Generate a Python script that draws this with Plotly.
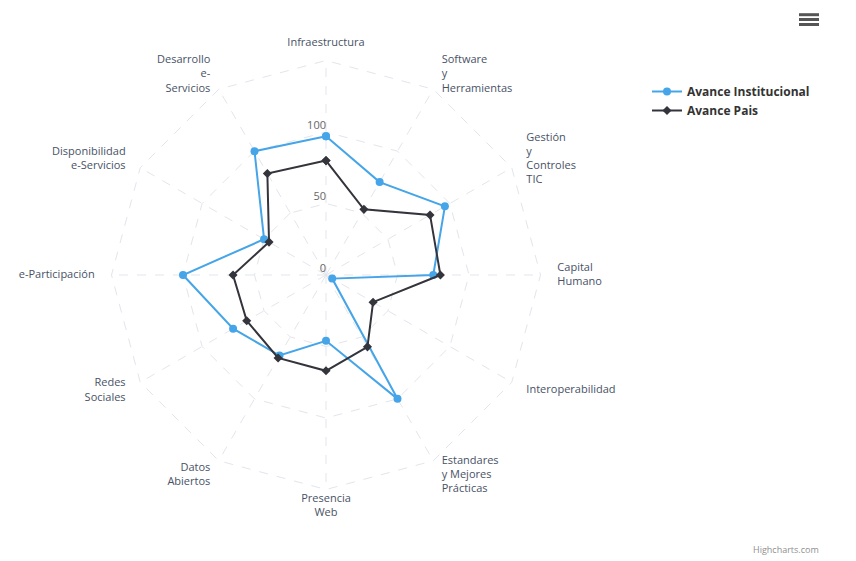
import plotly.graph_objects as go

categories = [
    "Infraestructura",
    "Software<br>y<br>Herramientas",
    "Gestión<br>y<br>Controles<br>TIC",
    "Capital<br>Humano",
    "Interoperabilidad",
    "Estandares<br>y Mejores<br>Prácticas",
    "Presencia<br>Web",
    "Datos<br>Abiertos",
    "Redes<br>Sociales",
    "e-Participación",
    "Disponibilidad<br>e-Servicios",
    "Desarrollo<br>e-<br>Servicios",
]
avance_institucional = [97, 75, 96, 75, 5, 100, 46, 65, 75, 100, 50, 100]
avance_pais = [80, 53, 84, 80, 38, 58, 67, 67, 64, 65, 46, 82]
radial_ticks = [0, 50, 100, 150]
radial_labels = ["0", "50", "100"]

W, H = 856, 561
OFF = 8  # page body margin
BLUE = "#45a5e8"
DARK = "#34343c"
GRID = "#e2e5eb"
LABEL = "#485266"
FONT = "Open Sans, Verdana, sans-serif"
RMAX = 150          # outer web
RLIM = 164          # room for category labels
LABEL_R = 161.8     # category labels sit just outside the web
LABEL_EPS = 0.3     # keeps the "0" label from sitting exactly on the pole
PX_PER_UNIT = 1.43
label_positions = [
    "middle center", "middle right", "middle right", "middle right",
    "middle right", "middle right", "middle center", "middle left",
    "middle left", "middle left", "middle left", "middle left",
]


def px(x):
    return (x - OFF) / W


def py(y):
    return 1 - (y - OFF) / H


fig = go.Figure()
# spokes of the web
spoke_r, spoke_t = [], []
for c in categories:
    spoke_r += [0, RMAX, None]
    spoke_t += [c, c, None]
fig.add_trace(go.Scatterpolar(
    r=spoke_r, theta=spoke_t, mode="lines",
    line=dict(color=GRID, width=1, dash="dash"),
    showlegend=False, hoverinfo="skip", connectgaps=False,
))
fig.add_trace(go.Scatterpolar(
    r=avance_institucional + avance_institucional[:1],
    theta=categories + categories[:1],
    mode="lines+markers",
    name="Avance Institucional",
    line=dict(color=BLUE, width=2),
    marker=dict(symbol="circle", size=8, color=BLUE),
))
fig.add_trace(go.Scatterpolar(
    r=avance_pais + avance_pais[:1],
    theta=categories + categories[:1],
    mode="lines+markers",
    name="Avance Pais",
    line=dict(color=DARK, width=2),
    marker=dict(symbol="diamond", size=7, color=DARK),
))
# category labels
fig.add_trace(go.Scatterpolar(
    r=[LABEL_R] * len(categories),
    theta=categories,
    mode="text",
    text=categories,
    textposition=label_positions,
    textfont=dict(family=FONT, size=11, color=LABEL),
    cliponaxis=False,
    showlegend=False,
    hoverinfo="skip",
))
# radial value labels
fig.add_trace(go.Scatterpolar(
    r=[v + LABEL_EPS for v in radial_ticks[:len(radial_labels)]],
    theta=[categories[0]] * len(radial_labels),
    mode="text",
    text=radial_labels,
    textposition="top left",
    textfont=dict(family=FONT, size=11, color="#666666"),
    cliponaxis=False,
    showlegend=False,
    hoverinfo="skip",
))

cx, cy = 326, 275
R = PX_PER_UNIT * RLIM
fig.update_layout(
    width=W, height=H,
    margin=dict(l=0, r=0, t=0, b=0),
    paper_bgcolor="white",
    plot_bgcolor="white",
    font=dict(family=FONT, size=11, color=LABEL),
    polar=dict(
        domain=dict(x=[px(cx - R), px(cx + R)],
                    y=[py(cy + R), py(cy - R)]),
        bgcolor="white",
        gridshape="linear",
        angularaxis=dict(
            direction="clockwise",
            rotation=90,
            type="category",
            categoryarray=categories,
            showline=False,
            showgrid=False,
            ticks="",
            showticklabels=False,
        ),
        radialaxis=dict(
            range=[-0.01, RLIM],
            tickvals=radial_ticks[1:],
            angle=90,
            showline=False,
            ticks="",
            showticklabels=False,
            showgrid=True,
            gridcolor=GRID,
            griddash="dash",
        ),
    ),
    legend=dict(
        x=px(647), y=py(77), xanchor="left", yanchor="top",
        font=dict(family=FONT, size=12, color="#333333", weight="bold"),
        bgcolor="rgba(0,0,0,0)",
        itemwidth=30,
        tracegroupgap=0,
    ),
    showlegend=True,
)

fig.add_annotation(
    text="Highcharts.com", xref="paper", yref="paper",
    x=px(821), y=py(549), xanchor="right", yanchor="middle",
    showarrow=False, font=dict(family=FONT, size=9, color="#909090"),
)
for yy in (14.7, 19.5, 24.5):
    fig.add_shape(
        type="line", xref="paper", yref="paper",
        x0=px(799), x1=px(819), y0=py(yy), y1=py(yy),
        line=dict(color="#555555", width=3),
    )

fig.write_html("out.html")
